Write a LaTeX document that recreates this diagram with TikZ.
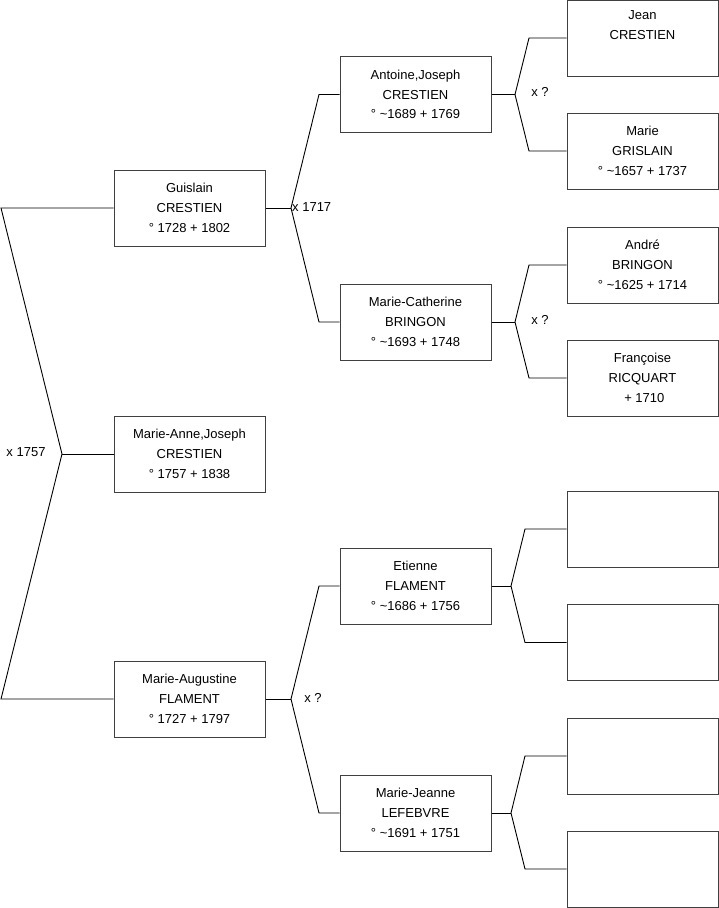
\documentclass[tikz,border=0pt]{standalone}
\usepackage{fontspec}
\setmainfont{Liberation Sans}
\begin{document}
\begin{tikzpicture}[x=1pt,y=-1pt,
  person/.style={draw=black!75, line width=1pt, minimum width=151pt, minimum height=76pt, align=center, inner sep=0pt, font=\fontsize{13}{19.8}\selectfont, text=black},
  conn/.style={draw=black, line width=0.9pt},
  lab/.style={font=\fontsize{13}{15}\selectfont, inner sep=0pt}]
\useasboundingbox (0,0) rectangle (719,908);
% generation 1
\node[person] (gui) at (189.5,208) {Guislain\\CRESTIEN\\° 1728 + 1802};
\node[person] (man) at (189.5,454) {Marie-Anne,Joseph\\CRESTIEN\\° 1757 + 1838};
\node[person] (mau) at (189.5,699) {Marie-Augustine\\FLAMENT\\° 1727 + 1797};
% generation 2
\node[person] (ant) at (415.5,94.5) {Antoine,Joseph\\CRESTIEN\\° \textasciitilde 1689 + 1769};
\node[person] (mca) at (415.5,322) {Marie-Catherine\\BRINGON\\° \textasciitilde 1693 + 1748};
\node[person] (eti) at (415.5,586) {Etienne\\FLAMENT\\° \textasciitilde 1686 + 1756};
\node[person] (mje) at (415.5,813) {Marie-Jeanne\\LEFEBVRE\\° \textasciitilde 1691 + 1751};
% generation 3
\node[person] (jea) at (642.5,38) {Jean\\CRESTIEN\\\strut};
\node[person] (mgr) at (642.5,151) {Marie\\GRISLAIN\\° \textasciitilde 1657 + 1737};
\node[person] (and) at (642.5,265) {André\\BRINGON\\° \textasciitilde 1625 + 1714};
\node[person] (fra) at (642.5,378) {Françoise\\RICQUART\\\ + 1710};
\node[person] (e1) at (642.5,529) {};
\node[person] (e2) at (642.5,642.5) {};
\node[person] (e3) at (642.5,756) {};
\node[person] (e4) at (642.5,869) {};
% junction coordinates
\coordinate (a0) at (1,208);
\coordinate (a1) at (62,454);
\coordinate (a2) at (1,699);
\coordinate (b0) at (291,208);
\coordinate (b1) at (319,94.5);
\coordinate (b2) at (319,322);
\coordinate (c0) at (515,94.5);
\coordinate (c1) at (529,38);
\coordinate (c2) at (529,151);
\coordinate (d0) at (515,322);
\coordinate (d1) at (529,265);
\coordinate (d2) at (529,378);
\coordinate (f0) at (291,699);
\coordinate (f1) at (319,586);
\coordinate (f2) at (319,813);
\coordinate (g0) at (511,586);
\coordinate (g1) at (525,529);
\coordinate (g2) at (525,642.5);
\coordinate (h0) at (511,813);
\coordinate (h1) at (525,756);
\coordinate (h2) at (525,869);
% connectors
\draw[conn] (gui.west) -- (a0) -- (a1) -- (a2) -- (mau.west);
\draw[conn] (a1) -- (man.west);
\draw[conn] (gui.east) -- (b0);
\draw[conn] (ant.west) -- (b1) -- (b0) -- (b2) -- (mca.west);
\draw[conn] (ant.east) -- (c0);
\draw[conn] (jea.west) -- (c1) -- (c0) -- (c2) -- (mgr.west);
\draw[conn] (mca.east) -- (d0);
\draw[conn] (and.west) -- (d1) -- (d0) -- (d2) -- (fra.west);
\draw[conn] (mau.east) -- (f0);
\draw[conn] (eti.west) -- (f1) -- (f0) -- (f2) -- (mje.west);
\draw[conn] (eti.east) -- (g0);
\draw[conn] (e1.west) -- (g1) -- (g0) -- (g2) -- (e2.west);
\draw[conn] (mje.east) -- (h0);
\draw[conn] (e3.west) -- (h1) -- (h0) -- (h2) -- (e4.west);
% labels
\node[lab] (l1) at (26,452) {x 1757};
\node[lab, anchor=west] (l2) at (292,207) {x 1717};
\node[lab] (l3) at (540,92) {x ?};
\node[lab] (l4) at (540,320) {x ?};
\node[lab] (l5) at (313,698) {x ?};
\end{tikzpicture}
\end{document}
